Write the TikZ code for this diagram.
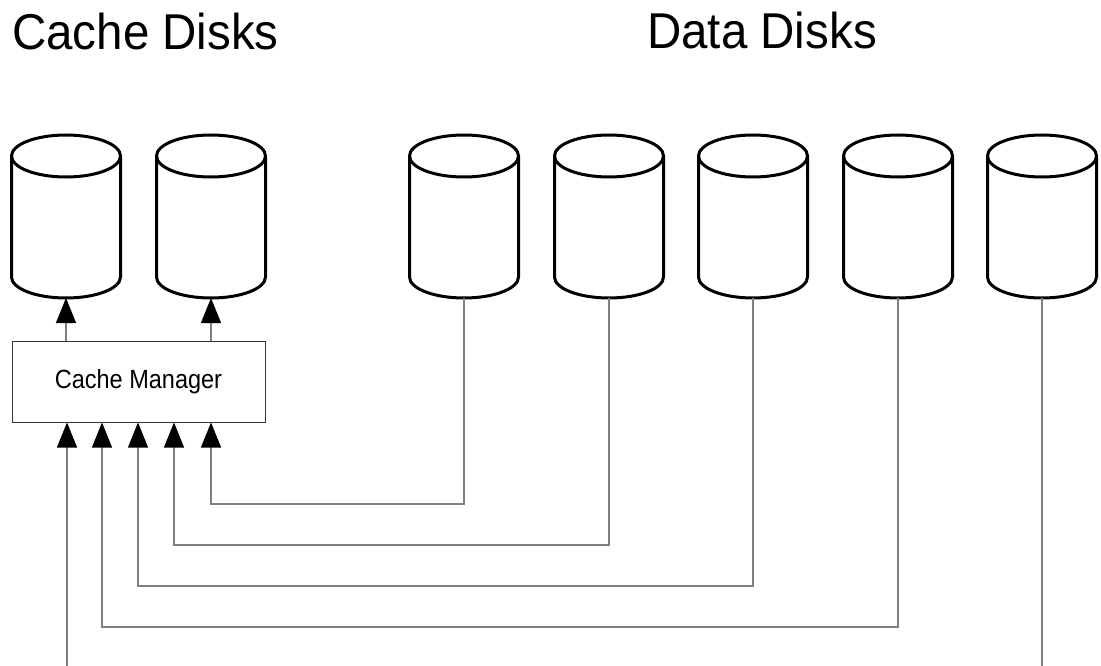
\documentclass[tikz,border=0pt]{standalone}
\usepackage{fontspec}
\usepackage{graphicx}
\setmainfont{Liberation Sans}
\usetikzlibrary{arrows.meta,calc}

\tikzset{
  diskline/.style={line width=3pt, black},
  disk/.pic={
    % cylinder outline: full top ellipse, sides and lower half-ellipse
    \draw[diskline, fill=white] (-54.5,-60.5) -- (-54.5,60.5)
      arc[start angle=180, end angle=0, x radius=54.5, y radius=21]
      -- (54.5,-60.5);
    \draw[diskline] (0,-60.5) ellipse[x radius=54.5, y radius=21];
    \node[minimum width=109pt, minimum height=163pt, inner sep=0pt, outer sep=0pt] (-b) at (0,0) {};
  },
  conn/.style={draw=black!50, line width=1.2pt},
  arr/.style={conn, -{Triangle[length=25pt, width=20pt, color=black]}},
  manager/.style={draw=black!80, line width=1pt, minimum width=253pt,
    minimum height=81pt, inner sep=0pt, font=\fontsize{23.5}{28}\selectfont},
  title/.style={anchor=base west, inner sep=0pt, font=\fontsize{47.5}{56}\selectfont}
}

\begin{document}
\begin{tikzpicture}[x=1pt, y=-1pt]
  \useasboundingbox[fill=white] (0,0) rectangle (1101,666);

  % headings
  \node[title] (tc) at (12,50) {\scalebox{1}[1.06]{Cache Disks}};
  \node[title] (td) at (647,49) {\scalebox{1}[1.06]{Data Disks}};

  % cache disks
  \pic (c1) at (66,216.5) {disk};
  \pic (c2) at (211,216.5) {disk};

  % data disks
  \pic (d1) at (464,216.5) {disk};
  \pic (d2) at (609,216.5) {disk};
  \pic (d3) at (753,216.5) {disk};
  \pic (d4) at (898,216.5) {disk};
  \pic (d5) at (1042,216.5) {disk};

  % cache manager
  \node[manager] (cm) at (138.5,381.5) {\scalebox{1}[1.12]{Cache Manager}};

  % free ends at the lower border
  \coordinate (f1) at (67,666);
  \coordinate (f2) at (1042,666);

  % manager to cache disks
  \draw[arr] (c1-b.south |- cm.north) -- (c1-b.south);
  \draw[arr] (c2-b.south |- cm.north) -- (c2-b.south);

  % data disks to manager
  \draw[arr] (d1-b.south) |- (211,504) -- (211,0 |- cm.south);
  \draw[arr] (d2-b.south) |- (174,545) -- (174,0 |- cm.south);
  \draw[arr] (d3-b.south) |- (138,586) -- (138,0 |- cm.south);
  \draw[arr] (d4-b.south) |- (102,627) -- (102,0 |- cm.south);
  \draw[arr] (f1) -- (f1 |- cm.south);
  \draw[conn] (d5-b.south) -- (f2);
\end{tikzpicture}
\end{document}
